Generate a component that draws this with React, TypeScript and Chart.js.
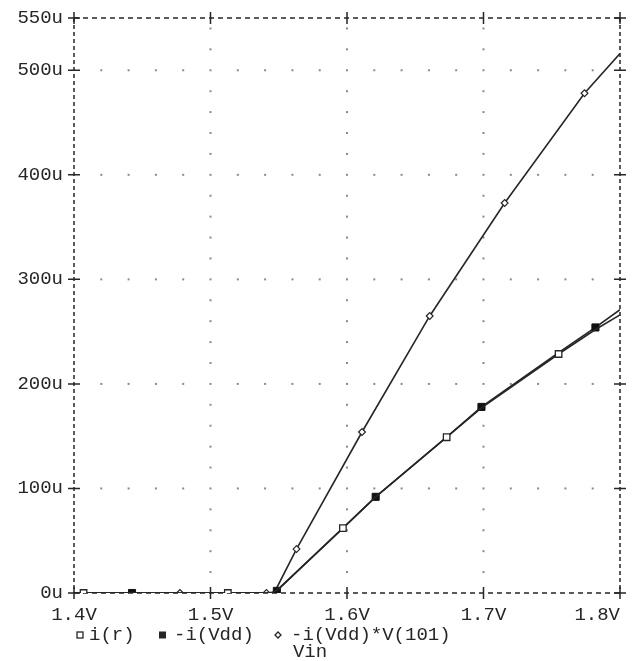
import React, { useEffect, useRef } from 'react';
import { Chart, registerables } from 'chart.js';

Chart.register(...registerables);

// ---- axes ----
const xTickValues = [1.4, 1.5, 1.6, 1.7, 1.8];
const xTickLabels = ['1.4V', '1.5V', '1.6V', '1.7V', '1.8V'];
const yTickValues = [0, 100, 200, 300, 400, 500, 550];
const yTickLabels = ['0u', '100u', '200u', '300u', '400u', '500u', '550u'];
const xTitle = 'Vin';

// ---- series: i(r) (uA) ----
const irVin = [1.4, 1.407, 1.5127, 1.545, 1.549, 1.597, 1.621, 1.673, 1.6985, 1.755, 1.782, 1.8];
const irVal = [0, 0, 0, 0, 3, 62, 92, 149, 177, 228.6, 252, 266];
const irMarkers = [1.407, 1.5127, 1.597, 1.673, 1.755];

// ---- series: -i(Vdd) (uA) ----
const idVin = [1.4, 1.4425, 1.545, 1.5486, 1.597, 1.621, 1.673, 1.6985, 1.755, 1.782, 1.8];
const idVal = [0, 0, 0, 2, 62, 92, 149, 178, 230, 254, 271];
const idMarkers = [1.4425, 1.5486, 1.621, 1.6985, 1.782];

// ---- series: -i(Vdd)*V(101) (uA) ----
const ipVin = [1.4, 1.4776, 1.541, 1.547, 1.563, 1.611, 1.6606, 1.7155, 1.774, 1.8];
const ipVal = [0, 0, 0, 1, 42, 154, 265, 373, 478, 516];
const ipMarkers = [1.4776, 1.541, 1.563, 1.611, 1.6606, 1.7155, 1.774];

const seriesNames = ['i(r)', '-i(Vdd)', '-i(Vdd)*V(101)'];

const FONT = '19px "Liberation Mono", "DejaVu Sans Mono", monospace';
const INK = '#262626';

const decorPlugin = {
  id: 'pspiceDecor',
  beforeDatasetsDraw(chart: any) {
    const { ctx, chartArea: a, scales } = chart;
    const xs = scales.x;
    const ys = scales.y;
    ctx.save();
    ctx.fillStyle = '#8a8a8a';
    // vertical dotted grid lines at inner x ticks
    for (let i = 1; i < xTickValues.length - 1; i++) {
      const px = xs.getPixelForValue(xTickValues[i]);
      for (let v = 20; v < 550; v += 20) {
        if (yTickValues.includes(v)) continue;
        const py = ys.getPixelForValue(v);
        ctx.fillRect(px - 1, py - 1, 2, 2);
      }
      for (let j = 1; j < yTickValues.length - 1; j++) {
        const py = ys.getPixelForValue(yTickValues[j]);
        ctx.fillRect(px - 1, py - 1, 2, 2);
      }
    }
    // horizontal dotted grid lines at inner y ticks
    for (let j = 1; j < yTickValues.length - 1; j++) {
      const py = ys.getPixelForValue(yTickValues[j]);
      for (let k = 1; k < 20; k++) {
        const v = 1.4 + k * 0.02;
        if (k % 5 === 0) continue;
        const px = xs.getPixelForValue(v);
        ctx.fillRect(px - 1, py - 1, 2, 2);
      }
    }
    // dashed frame
    ctx.strokeStyle = INK;
    ctx.lineWidth = 1.5;
    ctx.setLineDash([5, 4]);
    ctx.beginPath();
    ctx.moveTo(a.left, a.top);
    ctx.lineTo(a.right, a.top);
    ctx.moveTo(a.left, a.bottom);
    ctx.lineTo(a.right, a.bottom);
    ctx.stroke();
    ctx.setLineDash([4, 3]);
    ctx.beginPath();
    ctx.moveTo(a.left, a.top);
    ctx.lineTo(a.left, a.bottom);
    ctx.moveTo(a.right, a.top);
    ctx.lineTo(a.right, a.bottom);
    ctx.stroke();
    ctx.setLineDash([]);
    // tick crosses
    ctx.beginPath();
    for (const v of yTickValues) {
      const py = ys.getPixelForValue(v);
      ctx.moveTo(a.left - 6, py);
      ctx.lineTo(a.left + 6, py);
      ctx.moveTo(a.right - 6, py);
      ctx.lineTo(a.right + 6, py);
    }
    for (const v of xTickValues) {
      const px = xs.getPixelForValue(v);
      ctx.moveTo(px, a.bottom - 6);
      ctx.lineTo(px, a.bottom + 6);
      ctx.moveTo(px, a.top - 6);
      ctx.lineTo(px, a.top + 6);
    }
    ctx.stroke();
    ctx.restore();
  },
  afterDraw(chart: any) {
    const { ctx } = chart;
    ctx.save();
    ctx.font = FONT;
    ctx.fillStyle = INK;
    ctx.strokeStyle = INK;
    ctx.lineWidth = 1.3;
    ctx.textBaseline = 'middle';
    ctx.textAlign = 'left';
    const ly = 635;
    // legend item 1: open square
    ctx.strokeRect(77, ly - 3, 6, 6);
    ctx.fillText(seriesNames[0], 89, ly);
    // legend item 2: filled square
    ctx.fillRect(159, ly - 3.5, 7, 7);
    ctx.fillText(seriesNames[1], 174, ly);
    // legend item 3: small diamond
    ctx.beginPath();
    ctx.moveTo(278, ly - 3);
    ctx.lineTo(281, ly);
    ctx.lineTo(278, ly + 3);
    ctx.lineTo(275, ly);
    ctx.closePath();
    ctx.stroke();
    ctx.fillText(seriesNames[2], 291, ly);
    // axis title
    ctx.textAlign = 'center';
    ctx.fillText(xTitle, 310, 652);
    ctx.restore();
  },
};

function radii(vin: number[], marks: number[], r: number) {
  return vin.map((v) => (marks.includes(v) ? r : 0));
}

export default function App() {
  const ref = useRef<HTMLCanvasElement | null>(null);
  useEffect(() => {
    if (!ref.current) return;
    const chart = new Chart(ref.current, {
      type: 'line',
      data: {
        datasets: [
          {
            label: seriesNames[0],
            data: irVin.map((x, i) => ({ x, y: irVal[i] })),
            borderColor: INK,
            borderWidth: 1.6,
            pointStyle: 'rect',
            pointRadius: radii(irVin, irMarkers, 4.6),
            pointBackgroundColor: '#ffffff',
            pointBorderColor: INK,
            pointBorderWidth: 1.3,
            tension: 0,
          },
          {
            label: seriesNames[1],
            data: idVin.map((x, i) => ({ x, y: idVal[i] })),
            borderColor: INK,
            borderWidth: 1.6,
            pointStyle: 'rect',
            pointRadius: radii(idVin, idMarkers, 5),
            pointBackgroundColor: '#111111',
            pointBorderColor: '#111111',
            pointBorderWidth: 1,
            tension: 0,
          },
          {
            label: seriesNames[2],
            data: ipVin.map((x, i) => ({ x, y: ipVal[i] })),
            borderColor: INK,
            borderWidth: 1.6,
            pointStyle: 'rectRot',
            pointRadius: radii(ipVin, ipMarkers, 3.4),
            pointBackgroundColor: '#ffffff',
            pointBorderColor: INK,
            pointBorderWidth: 1.2,
            tension: 0,
          },
        ],
      },
      options: {
        responsive: false,
        animation: false,
        events: [],
        layout: { padding: { left: 0, right: 16, top: 18, bottom: 0 } },
        plugins: { legend: { display: false }, tooltip: { enabled: false } },
        scales: {
          x: {
            type: 'linear',
            min: 1.4,
            max: 1.8,
            grid: { display: false, drawTicks: false },
            border: { display: false },
            afterBuildTicks: (s: any) => {
              s.ticks = xTickValues.map((value) => ({ value }));
            },
            afterFit: (s: any) => {
              s.height = 68;
              s.paddingLeft = 0;
              s.paddingRight = 0;
            },
            ticks: {
              autoSkip: false,
              maxRotation: 0,
              minRotation: 0,
              padding: 11,
              color: INK,
              font: { family: '"Liberation Mono", "DejaVu Sans Mono", monospace', size: 19 },
              callback: (_v: any, i: number) =>
                i === xTickLabels.length - 1 ? xTickLabels[i] + '    ' : xTickLabels[i],
            },
          },
          y: {
            type: 'linear',
            min: 0,
            max: 550,
            grid: { display: false, drawTicks: false },
            border: { display: false },
            afterBuildTicks: (s: any) => {
              s.ticks = yTickValues.map((value) => ({ value }));
            },
            afterFit: (s: any) => {
              s.width = 74;
              s.paddingTop = 0;
              s.paddingBottom = 0;
            },
            ticks: {
              autoSkip: false,
              padding: 11,
              color: INK,
              font: { family: '"Liberation Mono", "DejaVu Sans Mono", monospace', size: 19 },
              callback: (_v: any, i: number) => yTickLabels[i],
            },
          },
        },
      },
      plugins: [decorPlugin],
    } as any);
    return () => chart.destroy();
  }, []);
  return (
    <div style={{ position: 'absolute', left: 0, top: 0, width: 636, height: 661, background: '#fff' }}>
      <canvas ref={ref} width={636} height={661} style={{ display: 'block' }} />
    </div>
  );
}
